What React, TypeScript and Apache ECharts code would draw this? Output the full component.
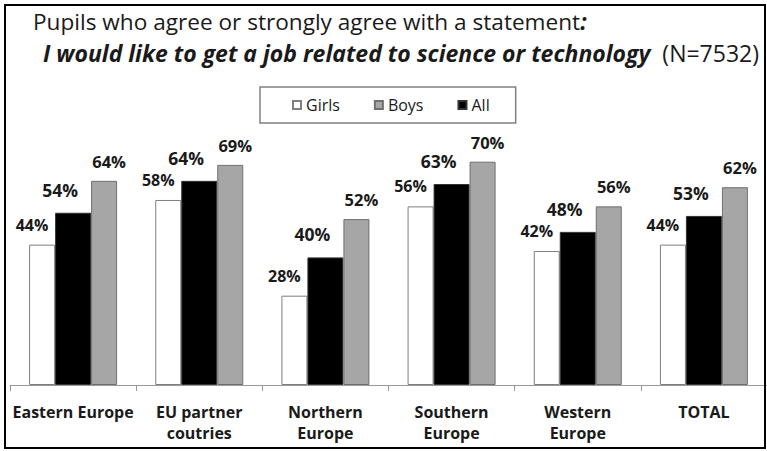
import React, { useEffect, useRef } from 'react';
import * as echarts from 'echarts';

const categories = ['Eastern Europe', 'EU partner\ncoutries', 'Northern\nEurope', 'Southern\nEurope', 'Western\nEurope', 'TOTAL'];
const girls = [44, 58, 28, 56, 42, 44];
const all = [54, 64, 40, 63, 48, 53];
const boys = [64, 69, 52, 70, 56, 62];
const legendOrder = ['Girls', 'Boys', 'All'];
const titleLine1 = 'Pupils who agree or strongly agree with a statement';
const titleLine2 = 'I would like to get a job related to science or technology';
const sampleNote = '(N=7532)';

const FONT = '"Open Sans", sans-serif';
const TEXT = '#1a1a1a';

export default function App() {
  const ref = useRef<HTMLDivElement>(null);
  useEffect(() => {
    const chart = echarts.init(ref.current!, null, { renderer: 'svg' });
    const lbl = (size: number, dist: number, dx: number) => ({
      show: true,
      position: 'top',
      distance: dist,
      offset: [dx, 0],
      formatter: '{c}%',
      fontFamily: FONT,
      fontWeight: 'bold',
      fontSize: size,
      color: TEXT,
    });
    chart.setOption({
      animation: false,
      backgroundColor: '#ffffff',
      title: [
        {
          left: 33,
          top: 8,
          padding: 0,
          text: '{a|' + titleLine1 + '}{b|:}',
          textStyle: {
            fontWeight: 'normal',
            rich: {
              a: { fontFamily: FONT, fontSize: 22.6, fontWeight: 'normal', color: TEXT, lineHeight: 26 },
              b: { fontFamily: FONT, fontSize: 22.6, color: TEXT, lineHeight: 26, fontStyle: 'italic', fontWeight: 'bold' },
            },
          },
        },
        {
          left: 43,
          top: 40,
          padding: 0,
          text: '{a|' + titleLine2 + '}{b|  ' + sampleNote + '}',
          textStyle: {
            fontWeight: 'normal',
            rich: {
              a: { fontFamily: FONT, fontSize: 23, color: TEXT, lineHeight: 26, fontStyle: 'italic', fontWeight: 'bold' },
              b: { fontFamily: FONT, fontSize: 23, fontWeight: 'normal', color: TEXT, lineHeight: 26 },
            },
          },
        },
      ],
      legend: {
        data: legendOrder,
        left: 260,
        top: 87,
        padding: [10, 26, 10, 32],
        itemGap: 34,
        itemWidth: 8,
        itemHeight: 8,
        icon: 'rect',
        borderColor: '#808080',
        borderWidth: 1.5,
        textStyle: { fontFamily: FONT, fontSize: 16, color: TEXT },
      },
      grid: { left: 10, width: 759, top: 66, bottom: 66 },
      xAxis: {
        type: 'category',
        data: categories,
        axisLine: { lineStyle: { color: '#999999', width: 1 } },
        axisTick: { show: true, length: 6, lineStyle: { color: '#999999' } },
        axisLabel: {
          fontFamily: FONT,
          fontWeight: 'bold',
          fontSize: 16,
          color: TEXT,
          lineHeight: 21,
          margin: 16,
          interval: 0,
        },
      },
      yAxis: { type: 'value', min: 0, max: 100, show: false },
      series: [
        {
          name: 'Girls',
          type: 'bar',
          data: girls,
          barWidth: 26,
          barGap: '0%',
          itemStyle: { color: '#ffffff', borderColor: '#7f7f7f', borderWidth: 1 },
          label: lbl(16, 12, -10),
        },
        {
          name: 'All',
          type: 'bar',
          data: all,
          barWidth: 36,
          barGap: '0%',
          itemStyle: { color: '#000000', borderColor: '#333333', borderWidth: 1 },
          label: lbl(17.5, 14, -13),
        },
        {
          name: 'Boys',
          type: 'bar',
          data: boys,
          barWidth: 26,
          barGap: '0%',
          itemStyle: { color: '#a6a6a6', borderColor: '#6f6f6f', borderWidth: 1 },
          label: lbl(16.5, 11, 5),
        },
      ],
      graphic: [
        {
          type: 'rect',
          silent: true,
          z: 100,
          shape: { x: 5, y: 5, width: 760, height: 443 },
          style: { fill: 'none', stroke: '#000000', lineWidth: 2 },
        },
      ],
    });
    return () => chart.dispose();
  }, []);
  return <div ref={ref} style={{ position: 'fixed', left: 0, top: 0, width: 767, height: 451 }} />;
}
